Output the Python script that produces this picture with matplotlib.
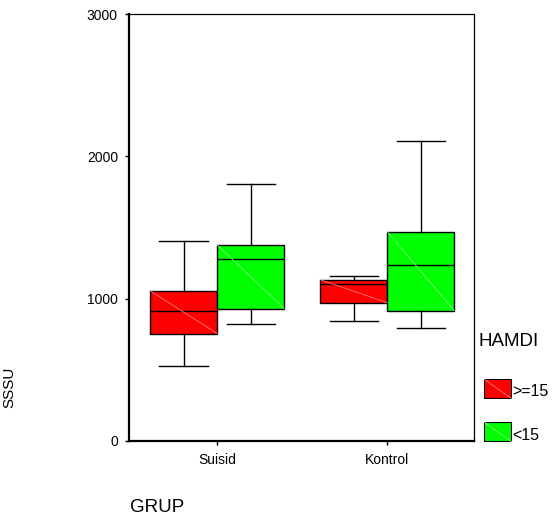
import matplotlib.pyplot as plt

plt.rcParams['font.family'] = ['Liberation Sans', 'DejaVu Sans']

# values (box plot summary per group)
groups = ["Suisid", "Kontrol"]
hamdi_levels = [">=15", "<15"]
colors = ["#ff0000", "#00ff00"]
diag_colors = ["#ff8080", "#80ff80"]

whislo = [[524, 825], [846, 797]]
q1 = [[755, 930], [972, 916]]
med = [[916, 1280], [1105, 1238]]
q3 = [[1056, 1378], [1133, 1469]]
whishi = [[1406, 1804], [1161, 2105]]

yticks = [0, 1000, 2000, 3000]

fig = plt.figure(figsize=(5.53, 5.22), dpi=100)
ax = fig.add_axes([129 / 553, 1 - 441 / 522, 345 / 553, 427 / 522])

width = 0.394
offsets = [-width / 2, width / 2]
for g in range(len(groups)):
    for h in range(len(hamdi_levels)):
        stats = [{
            "whislo": whislo[g][h], "q1": q1[g][h], "med": med[g][h],
            "q3": q3[g][h], "whishi": whishi[g][h], "fliers": [],
        }]
        pos = g + 1 + offsets[h]
        ax.bxp(stats, positions=[pos], widths=width, patch_artist=True,
               showfliers=False,
               boxprops=dict(facecolor=colors[h], edgecolor="black", linewidth=1),
               medianprops=dict(color="black", linewidth=1),
               whiskerprops=dict(color="black", linewidth=1),
               capprops=dict(color="black", linewidth=1),
               capwidths=width * 0.72)
        # faint diagonal inside the box
        ax.plot([pos - width / 2, pos + width / 2], [q3[g][h], q1[g][h]],
                color=diag_colors[h], linewidth=0.6, zorder=3)

ax.set_xlim(0.482, 2.51)
ax.set_ylim(0, 3000)
ax.set_yticks(yticks)
ax.set_yticklabels([str(t) for t in yticks], fontsize=10)
ax.set_xticks([1, 2])
ax.set_xticklabels(groups, fontsize=10)
ax.tick_params(direction="out", length=3, width=1, pad=6)
ax.tick_params(axis="y", pad=5)
for s in ["left", "bottom"]:
    ax.spines[s].set_linewidth(1.6)
for s in ["top", "right"]:
    ax.spines[s].set_linewidth(0.9)

# legend drawn by hand, like the SPSS output
fig.text(479 / 553, 1 - 341 / 522, "HAMDI", fontsize=13.5, va="center")
for h, lab in enumerate(hamdi_levels):
    y0 = 379 + h * 43
    lax = fig.add_axes([484 / 553, 1 - (y0 + 20) / 522, 28 / 553, 20 / 522])
    lax.set_xlim(0, 1)
    lax.set_ylim(0, 1)
    lax.add_patch(plt.Rectangle((0, 0), 1, 1, facecolor=colors[h],
                                edgecolor="black", linewidth=1.5))
    lax.plot([0, 1], [1, 0], color=diag_colors[h], linewidth=0.6)
    lax.axis("off")
    fig.text(512 / 553, 1 - (y0 + 13) / 522, lab, fontsize=11.5, va="center")

fig.text(130 / 553, 1 - 508 / 522, "GRUP", fontsize=13.5, va="center")
fig.text(2 / 553, 1 - 387 / 522, "SSSU", fontsize=11, rotation=90,
         va="center", ha="left")

fig.savefig("out.png", dpi=100)
